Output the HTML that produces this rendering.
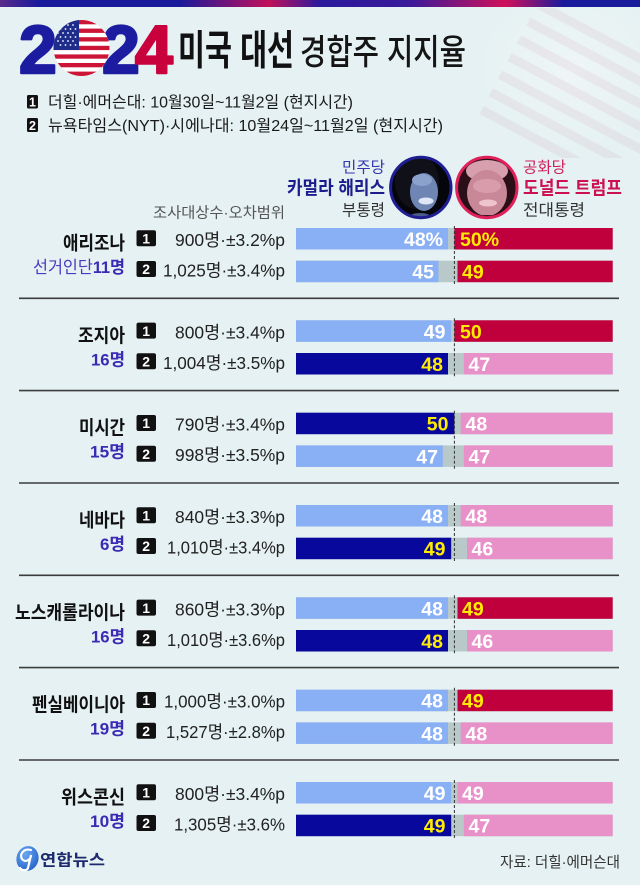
<!DOCTYPE html>
<html>
<head>
<meta charset="utf-8">
<style>
html,body{margin:0;padding:0;background:#e5f1f2;}
body{width:640px;height:885px;overflow:hidden;}
svg{display:block;}
.k{font-family:"Liberation Sans","Noto Sans CJK KR",sans-serif;}
.st{font-family:"Liberation Sans","Noto Sans CJK KR",sans-serif;font-weight:bold;font-size:19px;fill:#111;text-anchor:end;}
.el{font-family:"Liberation Sans","Noto Sans CJK KR",sans-serif;font-size:17px;fill:#4a3ac2;text-anchor:end;}
.elb{font-weight:bold;fill:#3a2ab4;}
.nm{font-family:"Liberation Sans","Noto Sans CJK KR",sans-serif;font-size:17.5px;fill:#222;text-anchor:end;}
.bx{fill:#111;}
.bn{font-family:"Liberation Sans",sans-serif;font-weight:bold;font-size:14px;fill:#fff;text-anchor:middle;}
.lab{font-family:"Liberation Sans",sans-serif;font-weight:bold;font-size:19.5px;}
.le{text-anchor:end;}
.w{fill:#fff;}
.y{fill:#ffec00;}
.gr{fill:#b9c9c9;}
.lb{fill:#89b0f5;}
.nv{fill:#08089c;}
.rd{fill:#c0003c;}
.pk{fill:#e890c8;}
.dl{stroke:#333;stroke-width:1;stroke-dasharray:3 2;}
.sep{stroke:#3c3c3c;stroke-width:1.6;}
</style>
</head>
<body>
<svg width="640" height="885" viewBox="0 0 640 885" xmlns="http://www.w3.org/2000/svg">
<defs>
<linearGradient id="topg" x1="0" x2="1" y1="0" y2="0">
<stop offset="0" stop-color="#5a2a8a"/>
<stop offset="0.06" stop-color="#1a1a9c"/>
<stop offset="0.28" stop-color="#1a1a9c"/>
<stop offset="0.42" stop-color="#c0105a"/>
<stop offset="0.5" stop-color="#2a1a9c"/>
<stop offset="0.64" stop-color="#3a1a9a"/>
<stop offset="0.79" stop-color="#d0105a"/>
<stop offset="0.88" stop-color="#1a1a9c"/>
<stop offset="1" stop-color="#1a1a9c"/>
</linearGradient>
<clipPath id="flagc"><circle cx="81.5" cy="48" r="28"/></clipPath>
<clipPath id="hc"><circle cx="420.8" cy="187.5" r="30"/></clipPath>
<clipPath id="tc"><circle cx="486.8" cy="187.5" r="30"/></clipPath>
<clipPath id="wm"><rect x="470" y="8" width="170" height="150"/></clipPath>
<radialGradient id="logog" cx="0.35" cy="0.35" r="0.8">
<stop offset="0" stop-color="#6aa8f0"/>
<stop offset="1" stop-color="#1f5cc8"/>
</radialGradient>
<radialGradient id="haze" cx="0.6" cy="0.4" r="0.6">
<stop offset="0" stop-color="#ffffff" stop-opacity="0.35"/>
<stop offset="1" stop-color="#ffffff" stop-opacity="0"/>
</radialGradient>
</defs>

<rect x="0" y="0" width="640" height="885" fill="#e5f1f2"/>

<!-- watermark flag -->
<g clip-path="url(#wm)">
<rect x="470" y="8" width="170" height="150" fill="url(#haze)"/>
<g opacity="0.06" transform="rotate(28 560 90)">
<rect x="500" y="20" width="200" height="9" fill="#b03060"/>
<rect x="500" y="40" width="200" height="9" fill="#b03060"/>
<rect x="500" y="60" width="200" height="9" fill="#b03060"/>
<rect x="500" y="80" width="200" height="9" fill="#b03060"/>
<rect x="500" y="100" width="200" height="9" fill="#b03060"/>
<rect x="500" y="120" width="200" height="9" fill="#b03060"/>
<rect x="500" y="140" width="200" height="9" fill="#b03060"/>
</g>
</g>

<!-- top bar -->
<rect x="0" y="0" width="640" height="7" fill="url(#topg)"/>

<!-- 2024 -->
<g font-family="Liberation Sans, sans-serif" font-weight="bold" font-size="68" stroke-linejoin="round">
<text x="19" y="72.8" fill="#1c1ca0" stroke="#1c1ca0" stroke-width="2.5">2</text>
<text x="102" y="72.8" fill="#1c1ca0" stroke="#1c1ca0" stroke-width="2.5">2</text>
<text x="135" y="72.8" fill="#c8003c" stroke="#c8003c" stroke-width="2.5">4</text>
</g>
<g clip-path="url(#flagc)">
<rect x="53" y="20" width="57" height="56" fill="#ffffff"/>
<rect x="53" y="20" width="57" height="4.3" fill="#cc1536"/>
<rect x="53" y="28.6" width="57" height="4.3" fill="#cc1536"/>
<rect x="53" y="37.2" width="57" height="4.3" fill="#cc1536"/>
<rect x="53" y="45.8" width="57" height="4.3" fill="#cc1536"/>
<rect x="53" y="54.4" width="57" height="4.3" fill="#cc1536"/>
<rect x="53" y="63" width="57" height="4.3" fill="#cc1536"/>
<rect x="53" y="71.6" width="57" height="4.4" fill="#cc1536"/>
<rect x="53" y="20" width="26" height="30" fill="#1e2c8c"/>
<g fill="#fff">
<circle cx="58" cy="25" r="0.9"/><circle cx="63" cy="25" r="0.9"/><circle cx="68" cy="25" r="0.9"/><circle cx="73" cy="25" r="0.9"/>
<circle cx="60.5" cy="29" r="0.9"/><circle cx="65.5" cy="29" r="0.9"/><circle cx="70.5" cy="29" r="0.9"/><circle cx="75.5" cy="29" r="0.9"/>
<circle cx="58" cy="33" r="0.9"/><circle cx="63" cy="33" r="0.9"/><circle cx="68" cy="33" r="0.9"/><circle cx="73" cy="33" r="0.9"/>
<circle cx="60.5" cy="37" r="0.9"/><circle cx="65.5" cy="37" r="0.9"/><circle cx="70.5" cy="37" r="0.9"/><circle cx="75.5" cy="37" r="0.9"/>
<circle cx="58" cy="41" r="0.9"/><circle cx="63" cy="41" r="0.9"/><circle cx="68" cy="41" r="0.9"/><circle cx="73" cy="41" r="0.9"/>
<circle cx="60.5" cy="45" r="0.9"/><circle cx="65.5" cy="45" r="0.9"/><circle cx="70.5" cy="45" r="0.9"/><circle cx="75.5" cy="45" r="0.9"/>
</g>
</g>

<!-- title -->
<text class="k" x="178" y="64.5" font-size="41" font-weight="bold" fill="#111" textLength="116" lengthAdjust="spacingAndGlyphs">미국 대선</text>
<text class="k" x="300" y="64.5" font-size="35" font-weight="500" fill="#151515" textLength="166" lengthAdjust="spacingAndGlyphs">경합주 지지율</text>

<!-- legend -->
<rect x="27" y="95" width="11" height="13.5" rx="1.5" fill="#111"/>
<text x="32.5" y="106.5" font-family="Liberation Sans, sans-serif" font-weight="bold" font-size="12.5" fill="#fff" text-anchor="middle">1</text>
<text class="k" x="48" y="107.5" font-size="16" fill="#1a1a1a" textLength="305" lengthAdjust="spacingAndGlyphs">더힐·에머슨대: 10월30일~11월2일 (현지시간)</text>
<rect x="27" y="118" width="11" height="14" rx="1.5" fill="#111"/>
<text x="32.5" y="129.8" font-family="Liberation Sans, sans-serif" font-weight="bold" font-size="12.5" fill="#fff" text-anchor="middle">2</text>
<text class="k" x="48" y="131" font-size="16" fill="#1a1a1a" textLength="395" lengthAdjust="spacingAndGlyphs">뉴욕타임스(NYT)·시에나대: 10월24일~11월2일 (현지시간)</text>

<!-- candidates -->
<text class="k" x="385" y="172.5" font-size="15.5" fill="#3535b0" text-anchor="end" textLength="43" lengthAdjust="spacingAndGlyphs">민주당</text>
<text class="k" x="385" y="194.5" font-size="18.5" font-weight="bold" fill="#1c1c8c" text-anchor="end" textLength="98" lengthAdjust="spacingAndGlyphs">카멀라 해리스</text>
<text class="k" x="385" y="215.5" font-size="16" fill="#333" text-anchor="end" textLength="43" lengthAdjust="spacingAndGlyphs">부통령</text>
<text class="k" x="523" y="172.5" font-size="15.5" fill="#d0205a" textLength="43" lengthAdjust="spacingAndGlyphs">공화당</text>
<text class="k" x="523" y="194.5" font-size="18.5" font-weight="bold" fill="#cc1050" textLength="99" lengthAdjust="spacingAndGlyphs">도널드 트럼프</text>
<text class="k" x="523" y="215.5" font-size="16" fill="#333" textLength="62" lengthAdjust="spacingAndGlyphs">전대통령</text>

<!-- Harris photo -->
<g clip-path="url(#hc)">
<rect x="388" y="155" width="66" height="66" fill="#05050c"/>
<ellipse cx="417" cy="182" rx="22" ry="27" fill="#101018"/>
<ellipse cx="424" cy="192" rx="14" ry="19" fill="#6f86b4"/>
<ellipse cx="422" cy="180" rx="10" ry="6" fill="#8aa2cc"/>
<ellipse cx="426" cy="201" rx="7.5" ry="3.5" fill="#dfe6f4"/>
<ellipse cx="420" cy="218" rx="12" ry="5" fill="#4a5c88"/>
</g>
<circle cx="420.8" cy="187.5" r="30.2" fill="none" stroke="#1e1e92" stroke-width="3"/>

<!-- Trump photo -->
<g clip-path="url(#tc)">
<rect x="454" y="155" width="66" height="66" fill="#2a0e18"/>
<ellipse cx="487" cy="171" rx="21" ry="11" fill="#d8a0ae"/>
<ellipse cx="487" cy="193" rx="20" ry="23" fill="#c98898"/>
<ellipse cx="487" cy="186" rx="14" ry="7" fill="#d89cab"/>
<ellipse cx="488" cy="203" rx="9" ry="3.5" fill="#eec4ce"/>
<ellipse cx="487" cy="221" rx="22" ry="6" fill="#3a1222"/>
</g>
<circle cx="486.8" cy="187.5" r="30.2" fill="none" stroke="#e0205a" stroke-width="3"/>

<text class="k" x="285" y="217.5" font-size="15" fill="#555" text-anchor="end" textLength="132" lengthAdjust="spacingAndGlyphs">조사대상수·오차범위</text>

<!-- separators -->
<line class="sep" x1="19" y1="298.3" x2="619" y2="298.3"/>
<line class="sep" x1="19" y1="390.6" x2="619" y2="390.6"/>
<line class="sep" x1="19" y1="483" x2="619" y2="483"/>
<line class="sep" x1="19" y1="575.3" x2="619" y2="575.3"/>
<line class="sep" x1="19" y1="667.6" x2="619" y2="667.6"/>
<line class="sep" x1="19" y1="760" x2="619" y2="760"/>

<!-- Group 0: Arizona -->
<g transform="translate(0,228)">
<text class="st" x="125" y="21.5" textLength="62" lengthAdjust="spacingAndGlyphs">애리조나</text>
<text class="el" x="125" y="45" textLength="92" lengthAdjust="spacingAndGlyphs">선거인단<tspan class="elb">11명</tspan></text>
<rect class="bx" x="136.5" y="2.3" width="19.5" height="16" rx="2"/><text class="bn" x="146.2" y="15.5">1</text>
<rect class="bx" x="136.5" y="33" width="19.5" height="16" rx="2"/><text class="bn" x="146.2" y="46.2">2</text>
<text class="nm" x="285" y="18" textLength="110" lengthAdjust="spacingAndGlyphs">900명·±3.2%p</text>
<text class="nm" x="285" y="48.5" textLength="122" lengthAdjust="spacingAndGlyphs">1,025명·±3.4%p</text>
<rect class="gr" x="296" y="0" width="316.7" height="21.5"/>
<rect class="lb" x="296" y="0" width="152" height="21.5"/>
<rect class="rd" x="454.35" y="0" width="158.35" height="21.5"/>
<text class="lab le w" x="443" y="18">48%</text>
<text class="lab y" x="460" y="18">50%</text>
<rect class="gr" x="296" y="32.7" width="316.7" height="21.5"/>
<rect class="lb" x="296" y="32.7" width="142.5" height="21.5"/>
<rect class="rd" x="457.5" y="32.7" width="155.2" height="21.5"/>
<text class="lab le w" x="434" y="50.7">45</text>
<text class="lab y" x="462" y="50.7">49</text>
<line class="dl" x1="454.4" y1="-2" x2="454.4" y2="56"/>
</g>

<!-- Group 1: Georgia -->
<g transform="translate(0,320.3)">
<text class="st" x="125" y="21.5" textLength="47" lengthAdjust="spacingAndGlyphs">조지아</text>
<text class="el" x="125" y="45" textLength="34" lengthAdjust="spacingAndGlyphs"><tspan class="elb">16명</tspan></text>
<rect class="bx" x="136.5" y="2.3" width="19.5" height="16" rx="2"/><text class="bn" x="146.2" y="15.5">1</text>
<rect class="bx" x="136.5" y="33" width="19.5" height="16" rx="2"/><text class="bn" x="146.2" y="46.2">2</text>
<text class="nm" x="285" y="18" textLength="110" lengthAdjust="spacingAndGlyphs">800명·±3.4%p</text>
<text class="nm" x="285" y="48.5" textLength="122" lengthAdjust="spacingAndGlyphs">1,004명·±3.5%p</text>
<rect class="gr" x="296" y="0" width="316.7" height="21.5"/>
<rect class="lb" x="296" y="0" width="155.2" height="21.5"/>
<rect class="rd" x="454.35" y="0" width="158.35" height="21.5"/>
<text class="lab le w" x="445.5" y="18">49</text>
<text class="lab y" x="460" y="18">50</text>
<rect class="gr" x="296" y="32.7" width="316.7" height="21.5"/>
<rect class="nv" x="296" y="32.7" width="152" height="21.5"/>
<rect class="pk" x="463.85" y="32.7" width="148.85" height="21.5"/>
<text class="lab le y" x="443" y="50.7">48</text>
<text class="lab w" x="468.5" y="50.7">47</text>
<line class="dl" x1="454.4" y1="-2" x2="454.4" y2="56"/>
</g>

<!-- Group 2: Michigan -->
<g transform="translate(0,412.7)">
<text class="st" x="125" y="21.5" textLength="46" lengthAdjust="spacingAndGlyphs">미시간</text>
<text class="el" x="125" y="45" textLength="35" lengthAdjust="spacingAndGlyphs"><tspan class="elb">15명</tspan></text>
<rect class="bx" x="136.5" y="2.3" width="19.5" height="16" rx="2"/><text class="bn" x="146.2" y="15.5">1</text>
<rect class="bx" x="136.5" y="33" width="19.5" height="16" rx="2"/><text class="bn" x="146.2" y="46.2">2</text>
<text class="nm" x="285" y="18" textLength="110" lengthAdjust="spacingAndGlyphs">790명·±3.4%p</text>
<text class="nm" x="285" y="48.5" textLength="110" lengthAdjust="spacingAndGlyphs">998명·±3.5%p</text>
<rect class="gr" x="296" y="0" width="316.7" height="21.5"/>
<rect class="nv" x="296" y="0" width="158.35" height="21.5"/>
<rect class="pk" x="460.7" y="0" width="152" height="21.5"/>
<text class="lab le y" x="448.5" y="18">50</text>
<text class="lab w" x="465.5" y="18">48</text>
<rect class="gr" x="296" y="32.7" width="316.7" height="21.5"/>
<rect class="lb" x="296" y="32.7" width="146.85" height="21.5"/>
<rect class="pk" x="463.85" y="32.7" width="148.85" height="21.5"/>
<text class="lab le w" x="438" y="50.7">47</text>
<text class="lab w" x="468.5" y="50.7">47</text>
<line class="dl" x1="454.4" y1="-2" x2="454.4" y2="56"/>
</g>

<!-- Group 3: Nevada -->
<g transform="translate(0,505)">
<text class="st" x="125" y="21.5" textLength="46" lengthAdjust="spacingAndGlyphs">네바다</text>
<text class="el" x="125" y="45" textLength="25" lengthAdjust="spacingAndGlyphs"><tspan class="elb">6명</tspan></text>
<rect class="bx" x="136.5" y="2.3" width="19.5" height="16" rx="2"/><text class="bn" x="146.2" y="15.5">1</text>
<rect class="bx" x="136.5" y="33" width="19.5" height="16" rx="2"/><text class="bn" x="146.2" y="46.2">2</text>
<text class="nm" x="285" y="18" textLength="110" lengthAdjust="spacingAndGlyphs">840명·±3.3%p</text>
<text class="nm" x="285" y="48.5" textLength="118" lengthAdjust="spacingAndGlyphs">1,010명·±3.4%p</text>
<rect class="gr" x="296" y="0" width="316.7" height="21.5"/>
<rect class="lb" x="296" y="0" width="152" height="21.5"/>
<rect class="pk" x="460.7" y="0" width="152" height="21.5"/>
<text class="lab le w" x="443" y="18">48</text>
<text class="lab w" x="465.5" y="18">48</text>
<rect class="gr" x="296" y="32.7" width="316.7" height="21.5"/>
<rect class="nv" x="296" y="32.7" width="155.2" height="21.5"/>
<rect class="pk" x="467" y="32.7" width="145.7" height="21.5"/>
<text class="lab le y" x="445.5" y="50.7">49</text>
<text class="lab w" x="471.5" y="50.7">46</text>
<line class="dl" x1="454.4" y1="-2" x2="454.4" y2="56"/>
</g>

<!-- Group 4: North Carolina -->
<g transform="translate(0,597.3)">
<text class="st" x="125" y="21.5" textLength="110" lengthAdjust="spacingAndGlyphs">노스캐롤라이나</text>
<text class="el" x="125" y="45" textLength="34" lengthAdjust="spacingAndGlyphs"><tspan class="elb">16명</tspan></text>
<rect class="bx" x="136.5" y="2.3" width="19.5" height="16" rx="2"/><text class="bn" x="146.2" y="15.5">1</text>
<rect class="bx" x="136.5" y="33" width="19.5" height="16" rx="2"/><text class="bn" x="146.2" y="46.2">2</text>
<text class="nm" x="285" y="18" textLength="110" lengthAdjust="spacingAndGlyphs">860명·±3.3%p</text>
<text class="nm" x="285" y="48.5" textLength="118" lengthAdjust="spacingAndGlyphs">1,010명·±3.6%p</text>
<rect class="gr" x="296" y="0" width="316.7" height="21.5"/>
<rect class="lb" x="296" y="0" width="152" height="21.5"/>
<rect class="rd" x="457.5" y="0" width="155.2" height="21.5"/>
<text class="lab le w" x="443" y="18">48</text>
<text class="lab y" x="462" y="18">49</text>
<rect class="gr" x="296" y="32.7" width="316.7" height="21.5"/>
<rect class="nv" x="296" y="32.7" width="152" height="21.5"/>
<rect class="pk" x="467" y="32.7" width="145.7" height="21.5"/>
<text class="lab le y" x="443" y="50.7">48</text>
<text class="lab w" x="471.5" y="50.7">46</text>
<line class="dl" x1="454.4" y1="-2" x2="454.4" y2="56"/>
</g>

<!-- Group 5: Pennsylvania -->
<g transform="translate(0,689.7)">
<text class="st" x="125" y="21.5" textLength="93" lengthAdjust="spacingAndGlyphs">펜실베이니아</text>
<text class="el" x="125" y="45" textLength="35" lengthAdjust="spacingAndGlyphs"><tspan class="elb">19명</tspan></text>
<rect class="bx" x="136.5" y="2.3" width="19.5" height="16" rx="2"/><text class="bn" x="146.2" y="15.5">1</text>
<rect class="bx" x="136.5" y="33" width="19.5" height="16" rx="2"/><text class="bn" x="146.2" y="46.2">2</text>
<text class="nm" x="285" y="18" textLength="121" lengthAdjust="spacingAndGlyphs">1,000명·±3.0%p</text>
<text class="nm" x="285" y="48.5" textLength="119" lengthAdjust="spacingAndGlyphs">1,527명·±2.8%p</text>
<rect class="gr" x="296" y="0" width="316.7" height="21.5"/>
<rect class="lb" x="296" y="0" width="152" height="21.5"/>
<rect class="rd" x="457.5" y="0" width="155.2" height="21.5"/>
<text class="lab le w" x="443" y="18">48</text>
<text class="lab y" x="462" y="18">49</text>
<rect class="gr" x="296" y="32.7" width="316.7" height="21.5"/>
<rect class="lb" x="296" y="32.7" width="152" height="21.5"/>
<rect class="pk" x="460.7" y="32.7" width="152" height="21.5"/>
<text class="lab le w" x="443" y="50.7">48</text>
<text class="lab w" x="465.5" y="50.7">48</text>
<line class="dl" x1="454.4" y1="-2" x2="454.4" y2="56"/>
</g>

<!-- Group 6: Wisconsin -->
<g transform="translate(0,782)">
<text class="st" x="125" y="21.5" textLength="64" lengthAdjust="spacingAndGlyphs">위스콘신</text>
<text class="el" x="125" y="45" textLength="35" lengthAdjust="spacingAndGlyphs"><tspan class="elb">10명</tspan></text>
<rect class="bx" x="136.5" y="2.3" width="19.5" height="16" rx="2"/><text class="bn" x="146.2" y="15.5">1</text>
<rect class="bx" x="136.5" y="33" width="19.5" height="16" rx="2"/><text class="bn" x="146.2" y="46.2">2</text>
<text class="nm" x="285" y="18" textLength="110" lengthAdjust="spacingAndGlyphs">800명·±3.4%p</text>
<text class="nm" x="285" y="48.5" textLength="111" lengthAdjust="spacingAndGlyphs">1,305명·±3.6%</text>
<rect class="gr" x="296" y="0" width="316.7" height="21.5"/>
<rect class="lb" x="296" y="0" width="155.2" height="21.5"/>
<rect class="pk" x="457.5" y="0" width="155.2" height="21.5"/>
<text class="lab le w" x="445.5" y="18">49</text>
<text class="lab w" x="462" y="18">49</text>
<rect class="gr" x="296" y="32.7" width="316.7" height="21.5"/>
<rect class="nv" x="296" y="32.7" width="155.2" height="21.5"/>
<rect class="pk" x="463.85" y="32.7" width="148.85" height="21.5"/>
<text class="lab le y" x="445.5" y="50.7">49</text>
<text class="lab w" x="468.5" y="50.7">47</text>
<line class="dl" x1="454.4" y1="-2" x2="454.4" y2="56"/>
</g>

<!-- footer -->
<ellipse cx="27.5" cy="858.5" rx="11" ry="12.5" fill="url(#logog)" transform="rotate(15 27.5 858.5)"/>
<path d="M31 850 C24 848 19 854 22 859 C25 863 31 860 31 855 L28 868 C27 871 22 871 20 868" fill="none" stroke="#fff" stroke-width="2.2" stroke-linecap="round"/>
<text class="k" x="40" y="865.5" font-size="16" font-weight="bold" fill="#1e2a6e" textLength="65" lengthAdjust="spacingAndGlyphs">연합뉴스</text>
<text class="k" x="620" y="867" font-size="15" fill="#333" text-anchor="end" textLength="120" lengthAdjust="spacingAndGlyphs">자료: 더힐·에머슨대</text>
</svg>
</body>
</html>
